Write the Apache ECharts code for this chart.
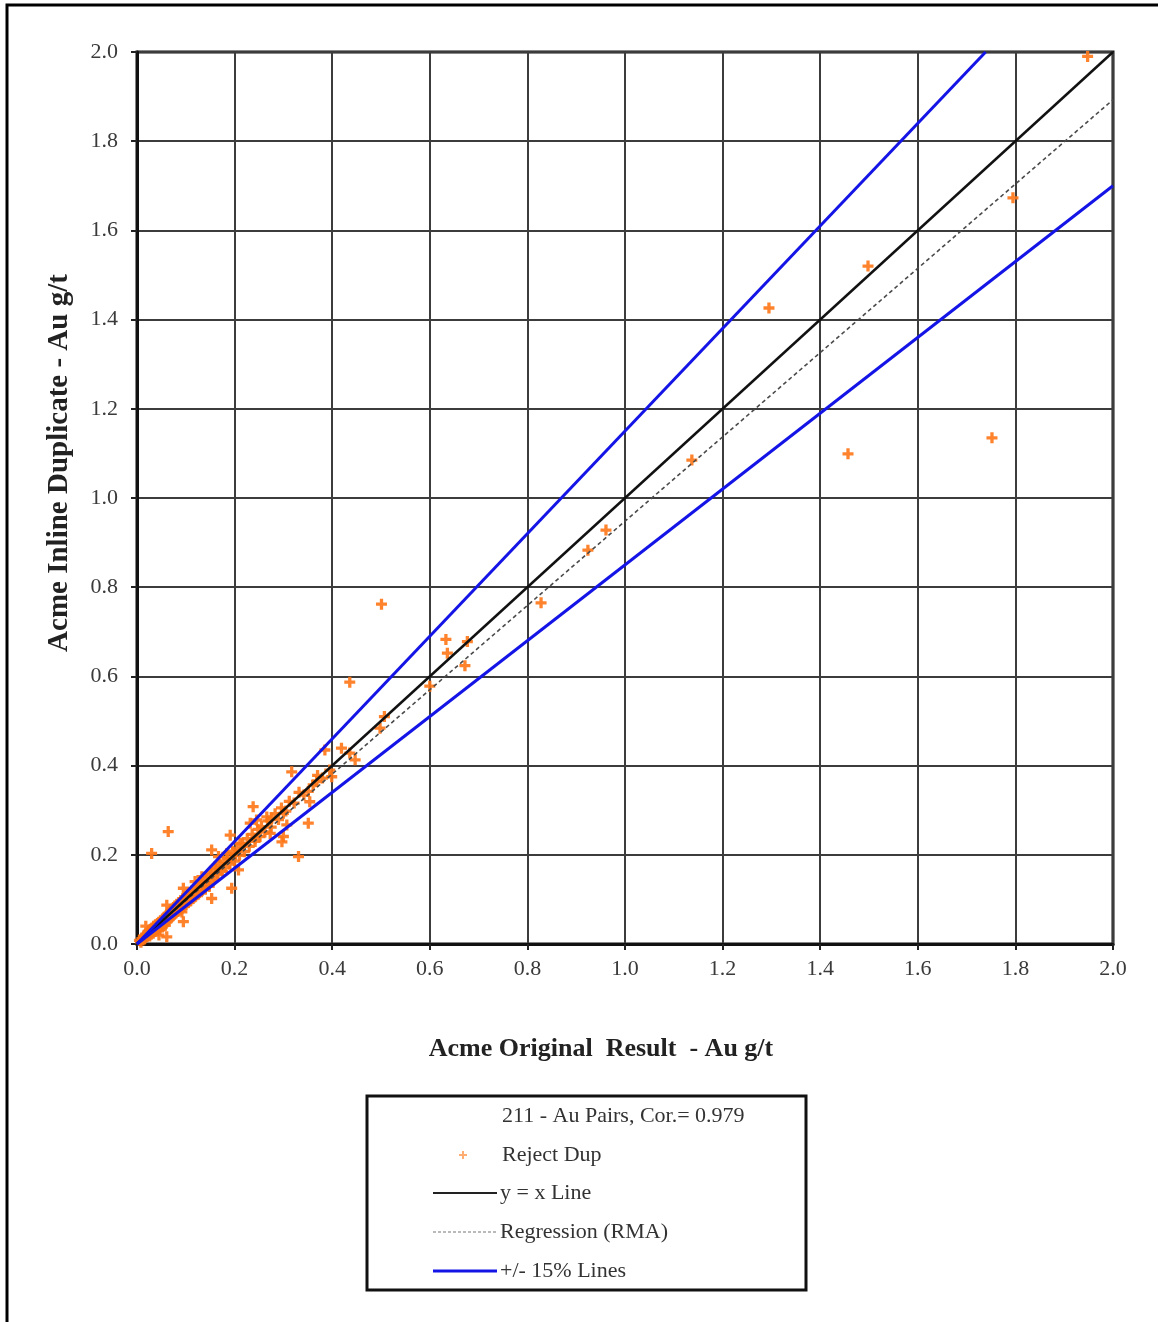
<!DOCTYPE html>
<html>
<head>
<meta charset="utf-8">
<title>Acme Au Duplicates</title>
<script src="https://cdn.jsdelivr.net/npm/echarts@6/dist/echarts.min.js"></script>
<style>
  html, body { margin: 0; padding: 0; background: #fff; }
  #chart { width: 1158px; height: 1322px; }
</style>
</head>
<body>
<div id="chart"></div>
<script>
// Au g/t: original assay vs. inline reject duplicate (211 pairs)
var originalAu = [
  1.948, 1.795, 1.752, 1.457, 1.498, 1.295, 1.137, 0.961, 0.924, 0.828,
  0.501, 0.633, 0.677, 0.636, 0.672, 0.600, 0.436, 0.507, 0.498, 0.385,
  0.419, 0.436, 0.447, 0.317, 0.395, 0.399, 0.368, 0.361, 0.351, 0.354,
  0.300, 0.351, 0.307, 0.276, 0.300, 0.331, 0.064, 0.238, 0.245, 0.232,
  0.266, 0.252, 0.242, 0.273, 0.297, 0.191, 0.211, 0.153, 0.167, 0.184,
  0.201, 0.194, 0.208, 0.160, 0.170, 0.150, 0.194, 0.133, 0.119, 0.095,
  0.129, 0.030, 0.095, 0.153, 0.061, 0.061, 0.092, 0.018, 0.045,
  0.005, 0.008, 0.010, 0.012, 0.014, 0.015, 0.017, 0.018, 0.020, 0.021,
  0.022, 0.023, 0.024, 0.025, 0.026, 0.027, 0.028, 0.029, 0.030, 0.031,
  0.032, 0.033, 0.034, 0.035, 0.036, 0.037, 0.038, 0.039, 0.040, 0.041,
  0.042, 0.043, 0.044, 0.045, 0.046, 0.047, 0.048, 0.049, 0.050, 0.051,
  0.052, 0.053, 0.054, 0.055, 0.056, 0.057, 0.058, 0.059, 0.060, 0.061,
  0.062, 0.063, 0.064, 0.065, 0.066, 0.067, 0.068, 0.069, 0.070, 0.071,
  0.072, 0.073, 0.074, 0.075, 0.076, 0.077, 0.078, 0.079, 0.080, 0.082,
  0.083, 0.084, 0.086, 0.087, 0.088, 0.090, 0.091, 0.092, 0.094, 0.095,
  0.096, 0.098, 0.099, 0.100, 0.102, 0.103, 0.105, 0.107, 0.108, 0.110,
  0.112, 0.113, 0.115, 0.117, 0.118, 0.120, 0.122, 0.124, 0.126, 0.128,
  0.130, 0.132, 0.135, 0.137, 0.140, 0.142, 0.145, 0.148, 0.152, 0.155,
  0.158, 0.162, 0.165, 0.170, 0.175, 0.178, 0.182, 0.186, 0.190, 0.196,
  0.200, 0.205, 0.210, 0.216, 0.220, 0.226, 0.230, 0.236, 0.242, 0.248,
  0.255, 0.262, 0.268, 0.275, 0.283, 0.290, 0.296, 0.305, 0.312, 0.322,
  0.332, 0.342, 0.370, 0.380
];
var duplicateAu = [
  1.990, 1.673, 1.135, 1.099, 1.520, 1.426, 1.085, 0.928, 0.883, 0.765,
  0.762, 0.683, 0.678, 0.652, 0.624, 0.578, 0.587, 0.510, 0.484, 0.435,
  0.439, 0.428, 0.413, 0.386, 0.390, 0.375, 0.364, 0.357, 0.342, 0.319,
  0.293, 0.271, 0.267, 0.282, 0.241, 0.196, 0.252, 0.308, 0.278, 0.271,
  0.285, 0.241, 0.237, 0.248, 0.229, 0.244, 0.226, 0.211, 0.196, 0.203,
  0.200, 0.192, 0.166, 0.173, 0.166, 0.155, 0.125, 0.151, 0.140, 0.125,
  0.129, 0.203, 0.050, 0.102, 0.087, 0.016, 0.072, 0.040, 0.020,
  0.008, 0.004, 0.012, 0.009, 0.018, 0.011, 0.015, 0.022, 0.016, 0.024,
  0.019, 0.028, 0.021, 0.030, 0.018, 0.025, 0.033, 0.022, 0.027, 0.036,
  0.029, 0.024, 0.040, 0.031, 0.034, 0.028, 0.043, 0.035, 0.038, 0.030,
  0.046, 0.039, 0.036, 0.049, 0.041, 0.032, 0.045, 0.052, 0.043, 0.048,
  0.038, 0.056, 0.050, 0.046, 0.060, 0.052, 0.042, 0.055, 0.064, 0.057,
  0.050, 0.067, 0.060, 0.054, 0.070, 0.063, 0.058, 0.074, 0.066, 0.061,
  0.078, 0.069, 0.064, 0.082, 0.072, 0.067, 0.085, 0.075, 0.070, 0.089,
  0.078, 0.073, 0.093, 0.082, 0.076, 0.097, 0.086, 0.080, 0.101, 0.090,
  0.084, 0.106, 0.094, 0.088, 0.110, 0.098, 0.093, 0.115, 0.103, 0.097,
  0.119, 0.108, 0.102, 0.124, 0.112, 0.107, 0.128, 0.117, 0.112, 0.134,
  0.122, 0.117, 0.140, 0.128, 0.123, 0.147, 0.134, 0.129, 0.160, 0.142,
  0.150, 0.168, 0.157, 0.180, 0.163, 0.185, 0.172, 0.192, 0.179, 0.208,
  0.186, 0.214, 0.199, 0.225, 0.207, 0.236, 0.219, 0.246, 0.230, 0.257,
  0.263, 0.251, 0.276, 0.262, 0.292, 0.279, 0.305, 0.298, 0.320, 0.316,
  0.340, 0.334, 0.378, 0.372
];

// reference lines, as end points [x, y]
var oneToOneLine = [[0, 0], [2, 2]];
var rmaLine = [[0, 0.003], [2, 1.893]];
var plus15Line = [[0, 0], [1.739, 2.0]];
var minus15Line = [[0, 0], [2, 1.7]];

var axisTicks = ['0.0', '0.2', '0.4', '0.6', '0.8', '1.0', '1.2', '1.4', '1.6', '1.8', '2.0'];

var legendTitle = '211 - Au Pairs, Cor.= 0.979';
var legendLabels = ['Reject Dup', 'y = x Line', 'Regression (RMA)', '+/- 15% Lines'];

var SERIF = '"Liberation Serif", "Times New Roman", serif';
var ORANGE = '#ff7615';
var BLUE = '#1414e6';
var PLUS = 'path://M3.5,0 H6.5 V3.5 H10 V6.5 H6.5 V10 H3.5 V6.5 H0 V3.5 H3.5 Z';

var pairs = originalAu.map(function (x, i) { return [x, duplicateAu[i]]; });

function tickLabel(v) {
  var idx = Math.round(v / 0.2);
  return axisTicks[idx] !== undefined ? axisTicks[idx] : '';
}

function valueAxis(extra) {
  var base = {
    type: 'value',
    min: 0,
    max: 2,
    interval: 0.2,
    axisLine: { show: true, onZero: false, lineStyle: { color: '#111', width: 3 } },
    axisTick: { show: true, length: 6, lineStyle: { color: '#222', width: 2 } },
    splitLine: { show: true, lineStyle: { color: '#3c3c3c', width: 2 } },
    nameLocation: 'middle'
  };
  for (var k in extra) base[k] = extra[k];
  return base;
}

// small "+" marker for the legend, built from a polygon outline
function plusPoints(cx, cy, r, t) {
  return [
    [cx - t, cy - r], [cx + t, cy - r], [cx + t, cy - t], [cx + r, cy - t],
    [cx + r, cy + t], [cx + t, cy + t], [cx + t, cy + r], [cx - t, cy + r],
    [cx - t, cy + t], [cx - r, cy + t], [cx - r, cy - t], [cx - t, cy - t]
  ];
}

var chart = echarts.init(document.getElementById('chart'), null, { renderer: 'canvas' });

var legendX = 367, legendY = 1096;
var rowY = [1116, 1155, 1193, 1232, 1271];
var legendFont = '22px ' + SERIF;

chart.setOption({
  animation: false,
  backgroundColor: '#fff',
  grid: { left: 137, right: 45, top: 52, bottom: 378, containLabel: false,
          show: true, borderColor: '#111', borderWidth: 3 },
  xAxis: valueAxis({
    name: 'Acme Original  Result  - Au g/t',
    nameGap: 92,
    nameTextStyle: { fontFamily: SERIF, fontSize: 26, fontWeight: 'bold', color: '#222',
                     padding: [0, 48, 0, 0] },
    axisLabel: { formatter: tickLabel, fontFamily: SERIF, fontSize: 22, color: '#3a3a3a', margin: 14 }
  }),
  yAxis: valueAxis({
    name: 'Acme Inline Duplicate - Au g/t',
    nameGap: 63,
    nameTextStyle: { fontFamily: SERIF, fontSize: 29, fontWeight: 'bold', color: '#222',
                     padding: [0, 0, 0, 70] },
    axisLabel: { formatter: tickLabel, fontFamily: SERIF, fontSize: 22, color: '#3a3a3a', margin: 19 }
  }),
  series: [
    {
      name: 'Reject Dup',
      type: 'scatter',
      data: pairs,
      symbol: PLUS,
      symbolSize: 11,
      itemStyle: { color: ORANGE, opacity: 0.9 },
      z: 2
    },
    {
      name: 'y = x Line',
      type: 'line',
      data: oneToOneLine,
      showSymbol: false,
      lineStyle: { color: '#111', width: 2.5 },
      z: 4
    },
    {
      name: 'Regression (RMA)',
      type: 'line',
      data: rmaLine,
      showSymbol: false,
      lineStyle: { color: '#4a4a4a', width: 1.6, type: [4, 3] },
      z: 3
    },
    {
      name: '+15%',
      type: 'line',
      data: plus15Line,
      showSymbol: false,
      lineStyle: { color: BLUE, width: 3 },
      z: 4
    },
    {
      name: '-15%',
      type: 'line',
      data: minus15Line,
      showSymbol: false,
      lineStyle: { color: BLUE, width: 3 },
      z: 4
    }
  ],
  graphic: [
    // page frame
    { type: 'rect', silent: true, z: 10,
      shape: { x: 7, y: 5, width: 1170, height: 1340 },
      style: { fill: null, stroke: '#000', lineWidth: 3 } },
    // legend box
    { type: 'rect', silent: true, z: 10,
      shape: { x: legendX, y: legendY, width: 439, height: 194 },
      style: { fill: '#fff', stroke: '#111', lineWidth: 3 } },
    { type: 'text', z: 11, x: 502, y: rowY[0],
      style: { text: legendTitle, font: legendFont, fill: '#333', verticalAlign: 'middle' } },
    { type: 'polygon', z: 11,
      shape: { points: plusPoints(463, rowY[1], 4, 1) },
      style: { fill: ORANGE, opacity: 0.6 } },
    { type: 'text', z: 11, x: 502, y: rowY[1],
      style: { text: legendLabels[0], font: legendFont, fill: '#333', verticalAlign: 'middle' } },
    { type: 'line', z: 11, shape: { x1: 433, y1: rowY[2], x2: 497, y2: rowY[2] },
      style: { stroke: '#222', lineWidth: 2 } },
    { type: 'text', z: 11, x: 500, y: rowY[2],
      style: { text: legendLabels[1], font: legendFont, fill: '#333', verticalAlign: 'middle' } },
    { type: 'line', z: 11, shape: { x1: 433, y1: rowY[3], x2: 497, y2: rowY[3] },
      style: { stroke: '#777', lineWidth: 1.2, lineDash: [3, 2] } },
    { type: 'text', z: 11, x: 500, y: rowY[3],
      style: { text: legendLabels[2], font: legendFont, fill: '#333', verticalAlign: 'middle' } },
    { type: 'line', z: 11, shape: { x1: 433, y1: rowY[4], x2: 497, y2: rowY[4] },
      style: { stroke: BLUE, lineWidth: 3 } },
    { type: 'text', z: 11, x: 500, y: rowY[4],
      style: { text: legendLabels[3], font: legendFont, fill: '#333', verticalAlign: 'middle' } }
  ]
});
</script>
</body>
</html>
